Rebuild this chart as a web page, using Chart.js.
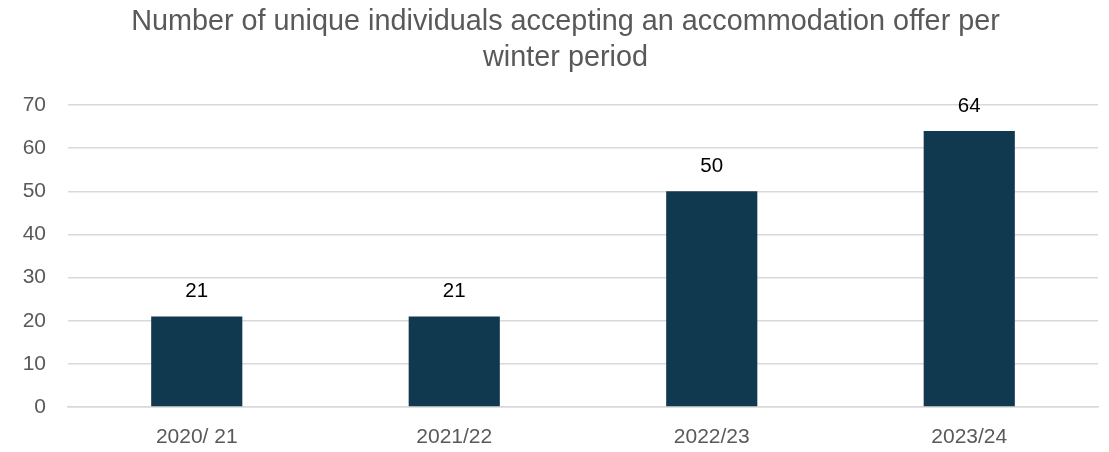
<!DOCTYPE html>
<html>
<head>
<meta charset="utf-8">
<script src="https://cdn.jsdelivr.net/npm/chart.js@4/dist/chart.umd.min.js"></script>
<style>
  html, body { margin: 0; padding: 0; background: #ffffff; }
  #wrap { width: 1109px; height: 452px; position: relative; }
</style>
</head>
<body>
<div id="wrap"><canvas id="c"></canvas></div>
<script>
const categories = ["2020/ 21", "2021/22", "2022/23", "2023/24"];
const values = [21, 21, 50, 64];
const yTicks = [0, 10, 20, 30, 40, 50, 60, 70];
const titleLines = ["Number of unique individuals accepting an accommodation offer per", "winter period"];

const FONT = '"Liberation Sans", Arial, sans-serif';

const valueLabels = {
  id: 'valueLabels',
  afterLayout(chart) {
    const t = chart.titleBlock;
    if (t) { t.left = 33; t.width = t.right - t.left; }
  },
  afterDatasetsDraw(chart) {
    const ctx = chart.ctx;
    const meta = chart.getDatasetMeta(0);
    ctx.save();
    ctx.font = '20.5px ' + FONT;
    ctx.fillStyle = '#000000';
    ctx.textAlign = 'center';
    ctx.textBaseline = 'middle';
    meta.data.forEach((bar, i) => {
      ctx.fillText(String(values[i]), bar.x, bar.y - 25);
    });
    ctx.restore();
  }
};

new Chart(document.getElementById('c'), {
  type: 'bar',
  data: {
    labels: categories,
    datasets: [{
      data: values,
      backgroundColor: '#10394f',
      borderWidth: 0,
      categoryPercentage: 1.0,
      barPercentage: 0.354
    }]
  },
  options: {
    responsive: true,
    maintainAspectRatio: false,
    animation: false,
    layout: { padding: { top: 4, right: 11, bottom: 0, left: 0 } },
    plugins: {
      legend: { display: false },
      tooltip: { enabled: false },
      title: {
        display: true,
        text: titleLines,
        color: '#595959',
        font: { family: FONT, size: 28.8, weight: 'normal', lineHeight: 1.25 },
        padding: { top: 0, bottom: 29 }
      }
    },
    scales: {
      x: {
        grid: { display: false, drawTicks: false },
        border: { display: true, color: '#d9d9d9', width: 1.5 },
        ticks: { color: '#595959', font: { family: FONT, size: 21 }, padding: 18 },
        afterFit(scale) { scale.height = 45; }
      },
      y: {
        min: 0, max: 70,
        afterBuildTicks(scale) { scale.ticks = yTicks.map(v => ({ value: v })); },
        grid: { color: '#d9d9d9', lineWidth: 1.5, drawTicks: false },
        border: { display: false },
        ticks: { color: '#595959', font: { family: FONT, size: 21 }, padding: 22 },
        afterFit(scale) { scale.width = 68; }
      }
    }
  },
  plugins: [valueLabels]
});
</script>
</body>
</html>
